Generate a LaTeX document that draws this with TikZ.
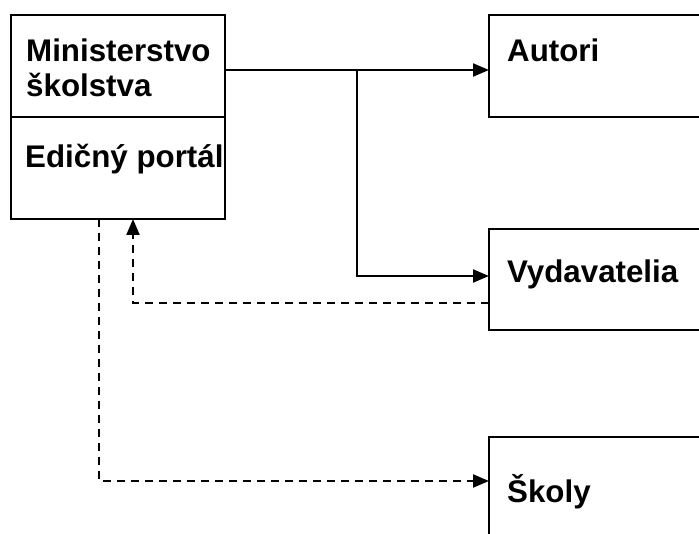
\documentclass[tikz,border=0pt]{standalone}
\usepackage{fontspec}
\setmainfont{Liberation Sans}
\usepackage{tikz}
\usetikzlibrary{positioning,calc,arrows.meta}

\tikzset{
  box/.style={draw, line width=2.2pt, rectangle, inner sep=0pt, outer sep=0pt, anchor=north west},
  lbl/.style={inner sep=0pt, anchor=base west, font=\fontsize{31.3}{35}\selectfont\bfseries},
  flow/.style={line width=2.2pt, -{Triangle[length=16pt,width=13pt]}},
  back/.style={flow, dash pattern=on 8pt off 6pt}
}

\begin{document}
\begin{tikzpicture}[x=1pt, y=-1pt]
    \useasboundingbox (0,0) rectangle (699,534);
    \clip (0,0) rectangle (699,534);
    % Boxes
    \node [box, minimum width=214pt, minimum height=102pt] (ms) at (11,15) {}; % Ministry
    \node [box, minimum width=214pt, minimum height=102pt] (ep) at (ms.south west) {}; % Portal
    \node [box, minimum width=240pt, minimum height=102pt] (au) at (489,15) {}; % Authors
    \node [box, minimum width=240pt, minimum height=101pt] (vy) at (489,229) {}; % Publishers
    \node [box, minimum width=240pt, minimum height=150pt] (sk) at (489,437) {}; % Schools
    % Labels
    \node [lbl] (msa) at (26,62) {Ministerstvo};
    \node [lbl] (msb) at (26,97) {školstva};
    \node [lbl] (epl) at (25,168) {Edičný portál};
    \node [lbl] (aul) at (507,62) {Autori};
    \node [lbl] (vyl) at (507,283) {Vydavatelia};
    \node [lbl] (skl) at (507,502) {Školy};
    % Connectors
    \coordinate (fork) at (357,70);
    \coordinate (fork2) at (357,276);
    \coordinate (ret) at (133,303);
    \coordinate (down) at (99,481);
    \draw [flow] (ms.east |- fork) -- (au.west |- fork);
    \draw [flow] (fork) -- (fork2) -- (vy.west |- fork2);
    \draw [back] (vy.west |- ret) -| (ret |- ep.south);
    \draw [back] (ep.south -| down) |- (sk.west |- down);
\end{tikzpicture}
\end{document}
